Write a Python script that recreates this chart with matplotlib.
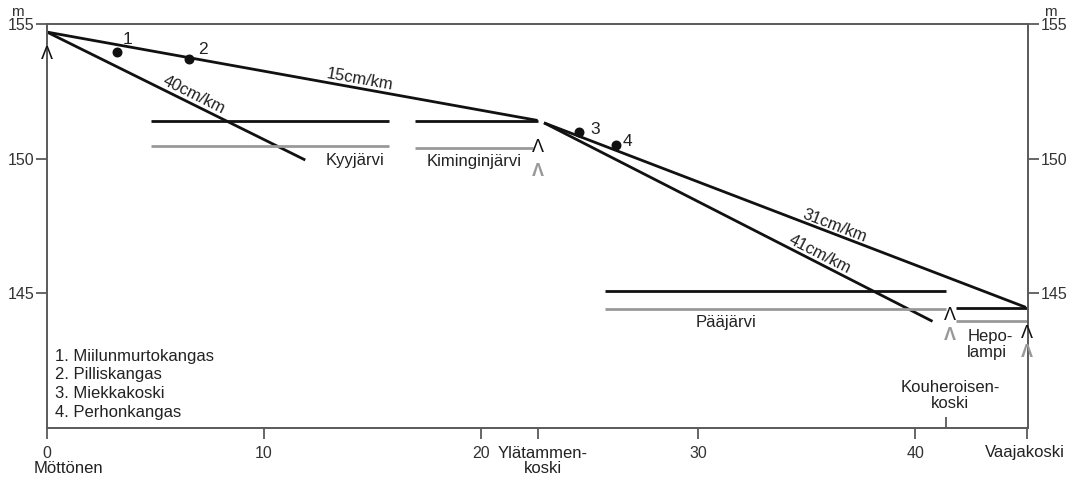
import numpy as np
import matplotlib; matplotlib.use('Agg')
import matplotlib.pyplot as plt

plt.rcParams['font.family'] = ['Liberation Sans', 'DejaVu Sans']

# gradient lines (km, m)
grad_labels = ['15cm/km', '40cm/km', '31cm/km', '41cm/km']
grad_x0 = [0.0, 0.0, 22.9, 22.9]
grad_y0 = [154.7, 154.7, 151.33, 151.33]
grad_x1 = [22.6, 11.9, 45.1, 40.8]
grad_y1 = [151.42, 149.95, 144.48, 143.96]
grad_lab_x = [14.4, 6.75, 36.3, 35.6]
grad_lab_y = [152.93, 152.37, 147.52, 146.44]

# lake shorelines: black = higher level, gray = lower level
lakes = ['Kyyjärvi', 'Kiminginjärvi', 'Pääjärvi', 'Hepo-\nlampi']
lake_x0 = [4.8, 16.95, 25.7, 41.9]
lake_x1 = [15.75, 22.6, 41.4, 45.15]
lake_hi = [151.41, 151.41, 145.1, 144.44]
lake_lo_x1 = [15.75, 22.4, 41.4, 45.2]
lake_lo = [150.47, 150.4, 144.41, 143.96]
lake_lab_x = [14.2, 19.7, 31.3, 42.4]
lake_lab_y = [149.95, 149.9, 143.9, 143.1]

# sites
site_km = [3.23, 6.54, 24.5, 26.2]
site_m = [153.96, 153.7, 151.0, 150.52]
site_num_x = [3.73, 7.19, 25.25, 26.73]
site_num_y = [154.44, 154.07, 151.07, 150.63]
site_names = ['Miilunmurtokangas', 'Pilliskangas', 'Miekkakoski', 'Perhonkangas']

# outlet thresholds
out_km = [22.6, 41.6, 45.15]
out_hi = [150.4, 144.19, 143.5]
out_lo = [149.52, 143.44, 142.82]

xticks = [0, 10, 20, 22.6, 30, 40, 45.15]
xticklabels = ['0', '10', '20', '', '30', '40', '']
yticks = [145, 150, 155]

fig = plt.figure(figsize=(10.77, 4.83), dpi=100)
ax = fig.add_axes([47/1077, 55/483, 981/1077, 404/483])
ax.set_xlim(0, 45.2); ax.set_ylim(140, 155)
for s in ax.spines.values(): s.set_color('#5a5a5a'); s.set_linewidth(1.4)

for x0, y0, x1, y1 in zip(grad_x0, grad_y0, grad_x1, grad_y1):
    ax.plot([x0, x1], [y0, y1], color='#111111', lw=2.0, solid_capstyle='butt')
fig.canvas.draw()
for lab, x0, y0, x1, y1, tx, ty in zip(grad_labels, grad_x0, grad_y0, grad_x1, grad_y1, grad_lab_x, grad_lab_y):
    (px0, py0), (px1, py1) = ax.transData.transform([(x0, y0), (x1, y1)])
    ang = np.degrees(np.arctan2(py1 - py0, px1 - px0))
    ax.text(tx, ty, lab, rotation=ang, ha='center', va='center', fontsize=12, color='#222222', rotation_mode='anchor')

for x0, x1, hi, x1b, lo in zip(lake_x0, lake_x1, lake_hi, lake_lo_x1, lake_lo):
    ax.plot([x0, x1], [hi, hi], color='#111111', lw=2.0, solid_capstyle='butt')
    ax.plot([x0, x1b], [lo, lo], color='#999999', lw=2.0, solid_capstyle='butt')
for lab, tx, ty in zip(lakes, lake_lab_x, lake_lab_y):
    ax.text(tx, ty, lab, ha='left' if '\n' in lab else 'center', va='center', fontsize=12, color='#222222', linespacing=1.05)

ax.scatter(site_km, site_m, s=38, color='#111111', zorder=5)
for i, (tx, ty) in enumerate(zip(site_num_x, site_num_y)):
    ax.text(tx, ty, str(i + 1), ha='center', va='center', fontsize=12.5, color='#222222')
for i, name in enumerate(site_names):
    ax.text(0.37, 142.67 - 0.7*i, f'{i+1}. {name}', ha='left', va='center', fontsize=12, color='#222222')

# arrows at outlets and at the start
ax.text(0, 153.85, 'Λ', ha='center', va='center', fontsize=13, color='#111111')
for x, hi, lo in zip(out_km, out_hi, out_lo):
    ax.text(x, hi, 'Λ', ha='center', va='center', fontsize=13, color='#111111')
    ax.text(x, lo, 'Λ', ha='center', va='center', fontsize=13, color='#999999', fontweight='bold')

ax.set_xticks(xticks); ax.set_xticklabels(xticklabels)
ax.set_xticks([41.4], minor=True)
ax.tick_params(axis='x', which='minor', direction='in', length=8, width=1.3, color='#5a5a5a')
ax.set_yticks(yticks)
ax.tick_params(axis='both', which='major', direction='out', length=8, width=1.3, color='#5a5a5a',
               labelsize=11.5, labelcolor='#333333', pad=2)
ax.tick_params(axis='y', right=True, labelright=True, pad=1)
ax.tick_params(axis='x', pad=5)

# place names along the axis
ax.text(0.97, 138.5, 'Möttönen', ha='center', va='center', fontsize=12, color='#222222', clip_on=False)
ax.text(22.85, 138.78, 'Ylätammen-\nkoski', ha='center', va='center', fontsize=12, color='#222222', linespacing=1.05, clip_on=False)
ax.text(45.07, 139.1, 'Vaajakoski', ha='center', va='center', fontsize=12, color='#222222', clip_on=False)
ax.text(41.6, 141.2, 'Kouheroisen-\nkoski', ha='center', va='center', fontsize=12, color='#222222', linespacing=1.05)
ax.text(-1.35, 155.45, 'm', ha='center', va='center', fontsize=11, color='#333333', clip_on=False)
ax.text(46.25, 155.45, 'm', ha='center', va='center', fontsize=11, color='#333333', clip_on=False)

fig.savefig('out.png', dpi=100)
